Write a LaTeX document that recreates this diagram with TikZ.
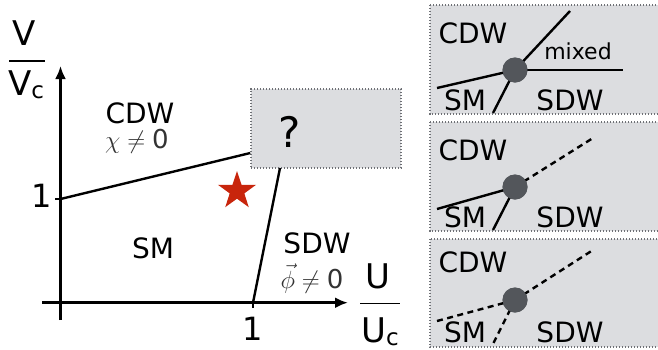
\documentclass[tikz,border=0pt]{standalone}
\usepackage{amsmath}
\usepackage{fontspec}
\setmainfont{DejaVu Sans}
\usetikzlibrary{arrows.meta, shapes.geometric}

\definecolor{boxgray}{HTML}{DCDDE0}
\definecolor{edgegray}{HTML}{6E7075}
\definecolor{dotgray}{HTML}{53565B}
\definecolor{starred}{HTML}{C8250C}
\definecolor{mathgray}{HTML}{333333}

\begin{document}
\begin{tikzpicture}[x=1pt, y=-1pt,
        lbl/.style={anchor=base, inner sep=0pt, font=\fontsize{28}{30}\selectfont},
        onelbl/.style={anchor=base, inner sep=0pt, font=\fontsize{32}{34}\selectfont},
        axlbl/.style={anchor=base, inner sep=0pt, font=\fontsize{34}{36}\selectfont},
        mathlbl/.style={anchor=base, inner sep=0pt, text=mathgray, font=\fontsize{26}{28}\selectfont},
        phase/.style={line width=2.4pt},
        graybox/.style={fill=boxgray, draw=edgegray, line width=1.4pt, dash pattern=on 1.4pt off 1.6pt},
        knot/.style={circle, fill=dotgray, minimum size=25pt, inner sep=0pt},
        dashline/.style={line width=2.4pt, dash pattern=on 6pt off 4.5pt}]
    \useasboundingbox (0,0) rectangle (658,349);

    % axes
    \coordinate (o) at (60.5,302.7);
    \coordinate (v1) at (60.5,199);
    \coordinate (u1) at (253,302.7);
    \draw[line width=2.6pt, -{Latex[length=13pt, width=11pt]}] (60.5,320) -- (60.5,66);
    \draw[line width=2.6pt, -{Latex[length=13pt, width=11pt]}] (42,302.7) -- (348,302.7);
    \draw[line width=2pt] (v1) -- ++(-6,0);
    \draw[line width=2pt] (u1) -- ++(0,5);
    \node[onelbl] (vone) at (42,207) {1};
    \node[onelbl] (uone) at (253,340) {1};

    % axis labels
    \node[axlbl] (vtop) at (24,45) {V};
    \draw[line width=1.6pt] (9,61) -- (45,61);
    \node[axlbl] (vbot) at (26,95) {V\raisebox{-3pt}{\fontsize{23}{25}\selectfont c}};
    \node[axlbl] (utop) at (378,288) {U};
    \draw[line width=1.6pt] (360,303.5) -- (400,303.5);
    \node[axlbl] (ubot) at (380,342) {U\raisebox{-3pt}{\fontsize{23}{25}\selectfont c}};

    % unknown region
    \node[graybox, minimum width=150pt, minimum height=79pt, inner sep=0pt] (qbox) at (326,128.5) {};
    \node[anchor=base, inner sep=0pt, font=\fontsize{42}{44}\selectfont] (qmark) at (290,147) {?};
    \coordinate (cdwend) at (qbox.south west |- 0,153);
    \coordinate (sdwend) at (280,168);
    \draw[phase] (v1) -- (cdwend);
    \draw[phase] (u1) -- (sdwend);

    % phases
    \node[lbl] (cdw) at (140,123) {CDW};
    \node[mathlbl] (chi) at (137,148) {$\chi\neq\text{0}$};
    \node[lbl] (sm) at (153,258) {SM};
    \node[lbl] (sdw) at (317,253) {SDW};
    \node[mathlbl] (phi) at (312,288) {$\vec{\phi}\neq\text{0}$};
    \node[star, star points=5, star point ratio=2.6, fill=starred, minimum size=40pt, inner sep=0pt] (mark) at (237,191) {};

    % scenario 1: mixed phase
    \draw[graybox] (430,5) rectangle (665,114);
    \node[knot] (k1) at (515,70) {};
    \draw[phase] (437,88) -- (k1.center) -- (570,11);
    \draw[phase] (k1.center) -- (623,70);
    \draw[phase] (k1.center) -- (493,113);
    \node[knot] at (k1) {};
    \node[lbl] (cdw1) at (473,43) {CDW};
    \node[anchor=base, inner sep=0pt, font=\fontsize{22}{24}\selectfont] (mix1) at (578,59) {mixed};
    \node[lbl] (sm1) at (465,110) {SM};
    \node[lbl] (sdw1) at (570,110) {SDW};

    % scenario 2
    \draw[graybox] (430,122) rectangle (665,231);
    \node[knot] (k2) at (515,187) {};
    \draw[phase] (437,209) -- (k2.center) -- (493,230);
    \draw[dashline] (k2.center) -- (593,138);
    \node[knot] at (k2) {};
    \node[lbl] (cdw2) at (473,160) {CDW};
    \node[lbl] (sm2) at (465,227) {SM};
    \node[lbl] (sdw2) at (570,227) {SDW};

    % scenario 3
    \draw[graybox] (430,239) rectangle (665,347);
    \node[knot] (k3) at (515,300) {};
    \draw[dashline] (437,321) -- (k3.center);
    \draw[dashline] (k3.center) -- (593,250);
    \draw[dashline] (k3.center) -- (492,346);
    \node[knot] at (k3) {};
    \node[lbl] (cdw3) at (473,272) {CDW};
    \node[lbl] (sm3) at (465,342) {SM};
    \node[lbl] (sdw3) at (570,342) {SDW};
\end{tikzpicture}
\end{document}
